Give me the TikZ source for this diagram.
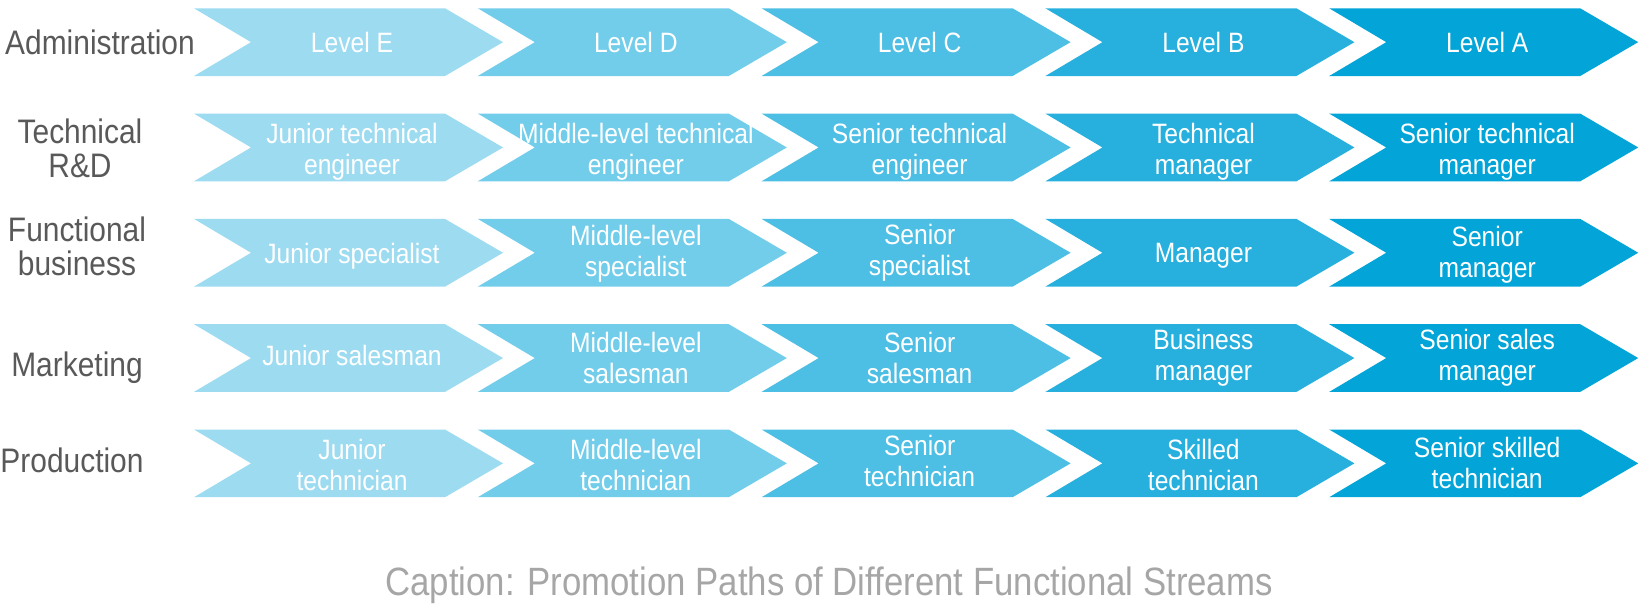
\documentclass[tikz,border=0pt]{standalone}
\usepackage{fontspec}
\setmainfont{Liberation Sans}[FakeStretch=0.88]
\definecolor{cA}{HTML}{9DDBF1}
\definecolor{cB}{HTML}{72CDEB}
\definecolor{cC}{HTML}{4DBEE4}
\definecolor{cD}{HTML}{27B0DE}
\definecolor{cE}{HTML}{03A5D8}
\definecolor{labgray}{HTML}{595959}
\definecolor{capgray}{HTML}{A6A6A6}
\begin{document}
\begin{tikzpicture}[x=1pt,y=-1pt,
  lvl/.style={text=white, font=\fontsize{28}{31}\selectfont, align=center, inner sep=0pt},
  lab/.style={text=labgray, font=\fontsize{34}{34}\selectfont, align=center, inner sep=0pt},
  captext/.style={text=capgray, font=\fontsize{39.5}{40}\selectfont, inner sep=0pt}]
\useasboundingbox (0,0) rectangle (1645,606);
\foreach \j/\col in {0/cA,1/cB,2/cC,3/cD,4/cE}{
  \foreach \i in {0,...,4}{
    \pgfmathsetmacro\xo{194+283.8*\j}
    \pgfmathsetmacro\yt{8.3+105.3*\i}
    \fill[\col] (\xo,\yt) -- ++(251,0) -- ++(58,33.85) -- ++(-58,33.85) -- ++(-251,0) -- ++(57,-33.85) -- cycle;
    \coordinate (c\i\j) at (\xo+158,\yt+33.85);
  }
}
% row labels
\node[lab] (adm) at (100,42) {Administration};
\node[lab] (tec) at (80,148) {Technical\\R\&D};
\node[lab] (fun) at (77,246) {Functional\\business};
\node[lab] (mkt) at (77,368) {Marketing};
\node[lab] (prd) at (72,460) {Production};
% row 1
\node[lvl] (t00) at (c00) {Level E};
\node[lvl] (t01) at (c01) {Level D};
\node[lvl] (t02) at (c02) {Level C};
\node[lvl] (t03) at (c03) {Level B};
\node[lvl] (t04) at (c04) {Level A};
% row 2
\node[lvl, yshift=-4pt] (t10) at (c10) {Junior technical\\engineer};
\node[lvl, yshift=-4pt] (t11) at (c11) {Middle-level technical\\engineer};
\node[lvl, yshift=-4pt] (t12) at (c12) {Senior technical\\engineer};
\node[lvl, yshift=-4pt] (t13) at (c13) {Technical\\manager};
\node[lvl, yshift=-4pt] (t14) at (c14) {Senior technical\\manager};
% row 3
\node[lvl, yshift=-4pt] (t20) at (c20) {Junior specialist};
\node[lvl, yshift=-1pt] (t21) at (c21) {Middle-level\\specialist};
\node[lvl] (t22) at (c22) {Senior\\specialist};
\node[lvl, yshift=-3pt] (t23) at (c23) {Manager};
\node[lvl, yshift=-2pt] (t24) at (c24) {Senior\\manager};
% row 4
\node[lvl, yshift=3pt] (t30) at (c30) {Junior salesman};
\node[lvl] (t31) at (c31) {Middle-level\\salesman};
\node[lvl] (t32) at (c32) {Senior\\salesman};
\node[lvl] (t33) at (c33) {Business\\manager};
\node[lvl] (t34) at (c34) {Senior sales\\manager};
% row 5
\node[lvl, yshift=-2pt] (t40) at (c40) {Junior\\technician};
\node[lvl, yshift=-2pt] (t41) at (c41) {Middle-level\\technician};
\node[lvl, yshift=2pt] (t42) at (c42) {Senior\\technician};
\node[lvl, yshift=-2pt] (t43) at (c43) {Skilled\\technician};
\node[lvl] (t44) at (c44) {Senior skilled\\technician};
% caption
\node[captext] (cap) at (829,585) {Caption: Promotion Paths of Different Functional Streams};
\end{tikzpicture}
\end{document}
